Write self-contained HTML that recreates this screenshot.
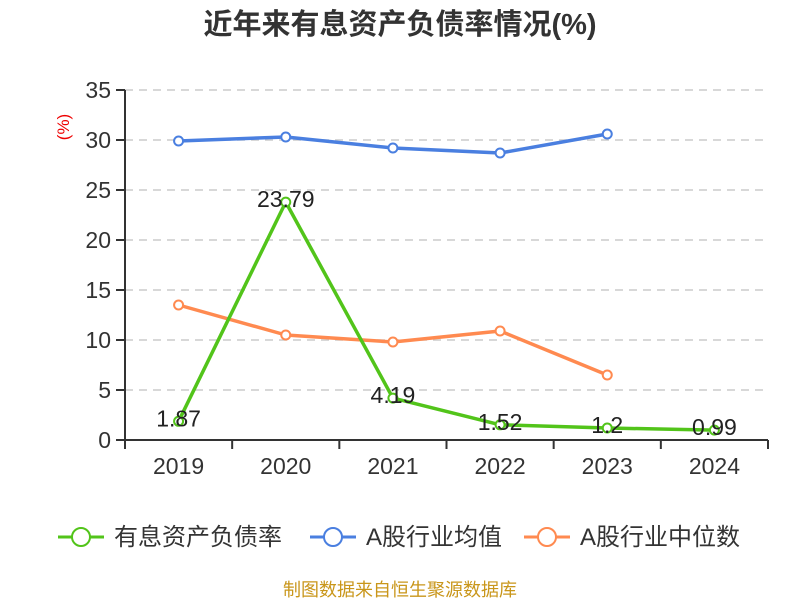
<!DOCTYPE html>
<html><head><meta charset="utf-8"><style>
body{margin:0;background:#fff;font-family:"Liberation Sans","Noto Sans CJK SC",sans-serif}
</style></head><body>
<svg id="c" width="800" height="600" xmlns="http://www.w3.org/2000/svg" font-family="Liberation Sans, Noto Sans CJK SC, sans-serif">
<text x="400" y="34" text-anchor="middle" font-size="29" font-weight="bold" fill="#333">近年来有息资产负债率情况(%)</text>
<text transform="translate(69,127) rotate(-90)" text-anchor="middle" font-size="17" fill="#e00">(%)</text>
<g id="grid"></g><g id="axes"></g><g id="series"></g>
<g font-size="24" fill="#333">
<g><line x1="58" y1="537" x2="104" y2="537" stroke="#52c41a" stroke-width="3"/><circle cx="81" cy="537" r="9" fill="#fff" stroke="#52c41a" stroke-width="2"/><text x="114" y="545">有息资产负债率</text></g>
<g><line x1="310" y1="537" x2="356" y2="537" stroke="#4a7fe0" stroke-width="3"/><circle cx="333" cy="537" r="9" fill="#fff" stroke="#4a7fe0" stroke-width="2"/><text x="366" y="545">A股行业均值</text></g>
<g><line x1="524" y1="537" x2="570" y2="537" stroke="#ff8a50" stroke-width="3"/><circle cx="547" cy="537" r="9" fill="#fff" stroke="#ff8a50" stroke-width="2"/><text x="580" y="545">A股行业中位数</text></g>
</g>
<text x="400" y="596" text-anchor="middle" font-size="18" fill="#c9961a">制图数据来自恒生聚源数据库</text>
</svg>
<script>
const categories=["2019","2020","2021","2022","2023","2024"];
const debtRatio=[1.87,23.79,4.19,1.52,1.2,0.99];
const industryAvg=[29.9,30.3,29.2,28.7,30.6];
const industryMedian=[13.5,10.5,9.8,10.9,6.5];
const yTicks=[0,5,10,15,20,25,30,35];
const NS="http://www.w3.org/2000/svg";
const L=125,R=768,T=90,B=440,yMax=35;
const bw=(R-L)/categories.length;
const x=i=>L+bw*(i+0.5);
const y=v=>B-(v/yMax)*(B-T);
function mk(t,a,p){const e=document.createElementNS(NS,t);for(const k in a)e.setAttribute(k,a[k]);p.appendChild(e);return e;}
const grid=document.getElementById('grid'),axes=document.getElementById('axes'),ser=document.getElementById('series');
yTicks.forEach(v=>{
 if(v>0){const g=mk('line',{x1:L,x2:R,y1:y(v),y2:y(v),stroke:'#ccc','stroke-dasharray':'8,6','stroke-width':1.5},grid);
 }
 const tk=mk('line',{x1:L-9,x2:L,y1:y(v),y2:y(v),stroke:'#333','stroke-width':2},axes);
 
 const t=mk('text',{x:L-14,y:y(v)+8,'text-anchor':'end','font-size':23,fill:'#333'},axes);t.textContent=v;
 
});
const ya=mk('line',{x1:L,x2:L,y1:T,y2:B,stroke:'#333','stroke-width':2},axes);

const xa=mk('line',{x1:L,x2:R,y1:B,y2:B,stroke:'#333','stroke-width':2},axes);

for(let i=0;i<=categories.length;i++){const tk=mk('line',{x1:L+bw*i,x2:L+bw*i,y1:B,y2:B+9,stroke:'#333','stroke-width':2},axes);
 }
categories.forEach((c,i)=>{const t=mk('text',{x:x(i),y:B+34,'text-anchor':'middle','font-size':23,fill:'#333'},axes);t.textContent=c;
 });
function series(vals,color,name,labels){
 const g=mk('g',{},ser);
 const p=mk('polyline',{points:vals.map((v,i)=>x(i)+','+y(v)).join(' '),fill:'none',stroke:color,'stroke-width':3.5,'stroke-linejoin':'round'},g);
 
 vals.forEach((v,i)=>{const c=mk('circle',{cx:x(i),cy:y(v),r:4.5,fill:'#fff',stroke:color,'stroke-width':2},g);
  
  if(labels){const t=mk('text',{x:x(i),y:y(v)+5,'text-anchor':'middle','font-size':23,fill:'#222'},g);t.textContent=v;
  }});
}
series(industryMedian,'#ff8a50','industry-median-series',false);
series(industryAvg,'#4a7fe0','industry-avg-series',false);
series(debtRatio,'#52c41a','debt-ratio-series',true);
</script>
</body></html>
